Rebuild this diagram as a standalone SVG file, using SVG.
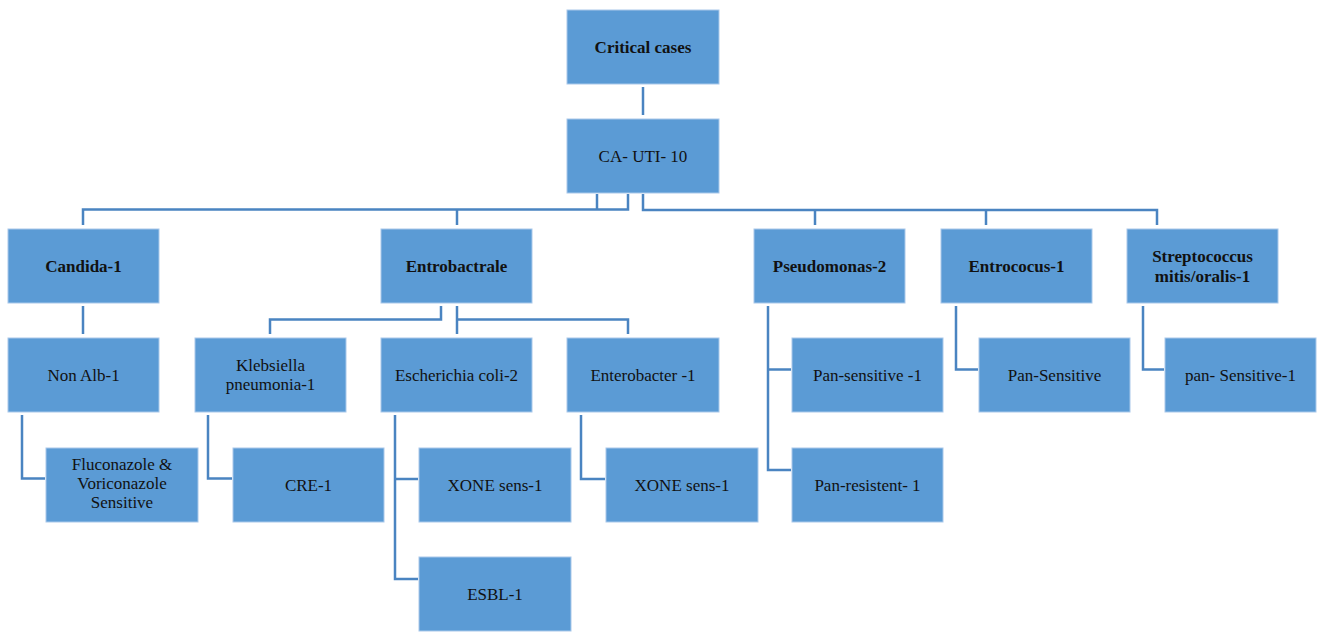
<svg xmlns="http://www.w3.org/2000/svg" width="1321" height="633" viewBox="0 0 1321 633">
  <style>
    .box { fill: #5B9BD5; stroke: #A9C8EA; stroke-width: 1; }
    .t { font-family: "Liberation Serif", "Times New Roman", serif; font-size: 17px; fill: #111; text-anchor: middle; }
    .b { font-weight: bold; }
    .wire { fill: none; stroke: #4A84C1; stroke-width: 2.5; }
  </style>
  <rect width="1321" height="633" fill="#fff"/>

  <!-- connectors -->
  <g id="connectors" class="wire">
    <path d="M643 87 V115"/>
    <path d="M83 225 V209.5 H628 V194"/>
    <path d="M597 194 V209.5"/>
    <path d="M457 209.5 V225"/>
    <path d="M643 194 V210 H1157 V225"/>
    <path d="M815 210 V225"/>
    <path d="M986 210 V225"/>
    <path d="M83 306 V334"/>
    <path d="M441 306 V319.5 H270 V334"/>
    <path d="M457 306 V334"/>
    <path d="M457 319.5 H628 V334"/>
    <path d="M22 415 V478.5 H45"/>
    <path d="M208 415 V478.5 H232"/>
    <path d="M395 415 V579 H418"/>
    <path d="M395 479 H418"/>
    <path d="M581 415 V479 H605"/>
    <path d="M768 306 V470 H791"/>
    <path d="M768 369.5 H791"/>
    <path d="M956 306 V369.5 H978"/>
    <path d="M1143 306 V369.5 H1164"/>
  </g>

  <!-- level 0 / 1 -->
  <g id="critical-cases"><rect class="box" x="567" y="10" width="152" height="74"/><text class="t b" x="643" y="53">Critical cases</text></g>
  <g id="ca-uti"><rect class="box" x="567" y="119" width="152" height="74"/><text class="t" x="643" y="162">CA- UTI- 10</text></g>

  <!-- level 2 -->
  <g id="candida"><rect class="box" x="8" y="229" width="151" height="74"/><text class="t b" x="83.5" y="272">Candida-1</text></g>
  <g id="entrobactrale"><rect class="box" x="381" y="229" width="151" height="74"/><text class="t b" x="456.5" y="272">Entrobactrale</text></g>
  <g id="pseudomonas"><rect class="box" x="754" y="229" width="151" height="74"/><text class="t b" x="829.5" y="272">Pseudomonas-2</text></g>
  <g id="entrococus"><rect class="box" x="941" y="229" width="151" height="74"/><text class="t b" x="1016.5" y="272">Entrococus-1</text></g>
  <g id="streptococcus"><rect class="box" x="1127" y="229" width="151" height="74"/><text class="t b" x="1202.5" y="262">Streptococcus</text><text class="t b" x="1202.5" y="282">mitis/oralis-1</text></g>

  <!-- level 3 -->
  <g id="non-alb"><rect class="box" x="8" y="338" width="151" height="74"/><text class="t" x="83.5" y="381">Non Alb-1</text></g>
  <g id="klebsiella"><rect class="box" x="195" y="338" width="151" height="74"/><text class="t" x="270.5" y="371">Klebsiella</text><text class="t" x="270.5" y="390">pneumonia-1</text></g>
  <g id="escherichia"><rect class="box" x="381" y="338" width="151" height="74"/><text class="t" x="456.5" y="381">Escherichia  coli-2</text></g>
  <g id="enterobacter"><rect class="box" x="567" y="338" width="152" height="74"/><text class="t" x="643" y="381">Enterobacter -1</text></g>
  <g id="pseudomonas-sensitive"><rect class="box" x="792" y="338" width="151" height="74"/><text class="t" x="867.5" y="381">Pan-sensitive -1</text></g>
  <g id="entrococus-sensitive"><rect class="box" x="979" y="338" width="151" height="74"/><text class="t" x="1054.5" y="381">Pan-Sensitive</text></g>
  <g id="streptococcus-sensitive"><rect class="box" x="1165" y="338" width="151" height="74"/><text class="t" x="1240.5" y="381">pan- Sensitive-1</text></g>

  <!-- level 4 -->
  <g id="azole-sensitive"><rect class="box" x="46" y="448" width="152" height="74"/><text class="t" x="122" y="470">Fluconazole &amp;</text><text class="t" x="122" y="489">Voriconazole</text><text class="t" x="122" y="508">Sensitive</text></g>
  <g id="cre"><rect class="box" x="233" y="448" width="151" height="74"/><text class="t" x="308.5" y="491">CRE-1</text></g>
  <g id="xone-ecoli"><rect class="box" x="419" y="448" width="152" height="74"/><text class="t" x="495" y="491">XONE sens-1</text></g>
  <g id="xone-enterobacter"><rect class="box" x="606" y="448" width="152" height="74"/><text class="t" x="682" y="491">XONE sens-1</text></g>
  <g id="pseudomonas-resistant"><rect class="box" x="792" y="448" width="151" height="74"/><text class="t" x="867.5" y="491">Pan-resistent- 1</text></g>

  <!-- level 5 -->
  <g id="esbl"><rect class="box" x="419" y="557" width="152" height="74"/><text class="t" x="495" y="600">ESBL-1</text></g>
</svg>
